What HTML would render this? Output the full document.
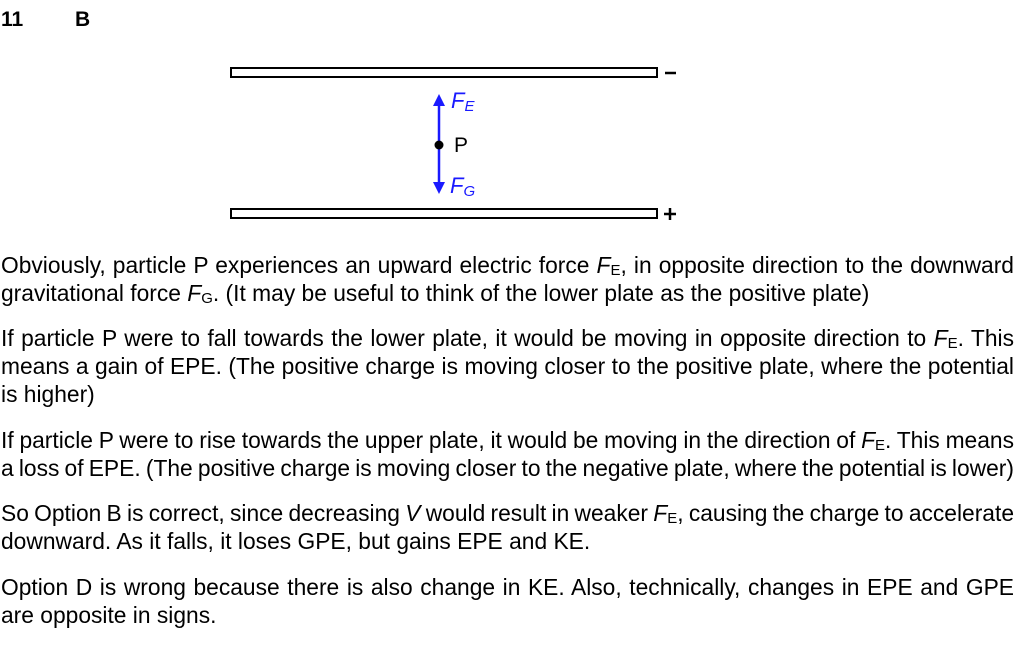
<!DOCTYPE html>
<html><head><meta charset="utf-8"><style>
html,body{margin:0;padding:0;background:#fff;}
body{width:1015px;height:653px;position:relative;overflow:hidden;font-family:"Liberation Sans",Arial,sans-serif;color:#000;}
.l{position:absolute;left:1px;width:1013px;font-size:22.8px;line-height:28px;white-space:nowrap;}
.j{text-align:justify;text-align-last:justify;word-spacing:-2.5px;}
sub{font-size:15px;vertical-align:-2px;line-height:0;}
.h{position:absolute;top:8px;font-weight:bold;font-size:21px;}
</style></head><body>
<div class="h" style="left:1px">11</div>
<div class="h" style="left:75px">B</div>
<svg style="position:absolute;left:0;top:0" width="1015" height="240">
<rect x="231" y="68" width="426" height="9" fill="none" stroke="#000" stroke-width="2"/>
<rect x="231" y="209" width="426" height="9" fill="none" stroke="#000" stroke-width="2"/>
<line x1="439" y1="100" x2="439" y2="188" stroke="#1a1aff" stroke-width="2.5"/>
<polygon points="439,94 433,106 445,106" fill="#1a1aff"/>
<polygon points="439,194 433,182 445,182" fill="#1a1aff"/>
<circle cx="439" cy="145" r="4.5" fill="#000"/>
<text x="454" y="152" font-family="Liberation Sans,Arial,sans-serif" font-size="21">P</text>
<text x="451" y="108" font-family="Liberation Sans,Arial,sans-serif" font-size="22" font-style="italic" fill="#1a1aff">F<tspan font-size="15" dy="3">E</tspan></text>
<text x="450" y="193" font-family="Liberation Sans,Arial,sans-serif" font-size="22" font-style="italic" fill="#1a1aff">F<tspan font-size="15" dy="3">G</tspan></text>
<line x1="665" y1="73" x2="676" y2="73" stroke="#000" stroke-width="2.5"/>
<line x1="664" y1="214" x2="676" y2="214" stroke="#000" stroke-width="2.5"/>
<line x1="670" y1="208" x2="670" y2="220" stroke="#000" stroke-width="2.5"/>
</svg>
<div class="l j" style="top:251px">Obviously, particle P experiences an upward electric force <i>F</i><sub>E</sub>, in opposite direction to the downward</div>
<div class="l" style="top:279px">gravitational force <i>F</i><sub>G</sub>. (It may be useful to think of the lower plate as the positive plate)</div>

<div class="l j" style="top:324px">If particle P were to fall towards the lower plate, it would be moving in opposite direction to <i>F</i><sub>E</sub>. This</div>
<div class="l j" style="top:352px">means a gain of EPE. (The positive charge is moving closer to the positive plate, where the potential</div>
<div class="l" style="top:380px">is higher)</div>

<div class="l j" style="top:426px">If particle P were to rise towards the upper plate, it would be moving in the direction of <i>F</i><sub>E</sub>. This means</div>
<div class="l j" style="top:454px">a loss of EPE. (The positive charge is moving closer to the negative plate, where the potential is lower)</div>

<div class="l j" style="top:499px">So Option B is correct, since decreasing <i>V</i> would result in weaker <i>F</i><sub>E</sub>, causing the charge to accelerate</div>
<div class="l" style="top:527px">downward. As it falls, it loses GPE, but gains EPE and KE.</div>

<div class="l j" style="top:573px">Option D is wrong because there is also change in KE. Also, technically, changes in EPE and GPE</div>
<div class="l" style="top:601px">are opposite in signs.</div>
</body></html>
